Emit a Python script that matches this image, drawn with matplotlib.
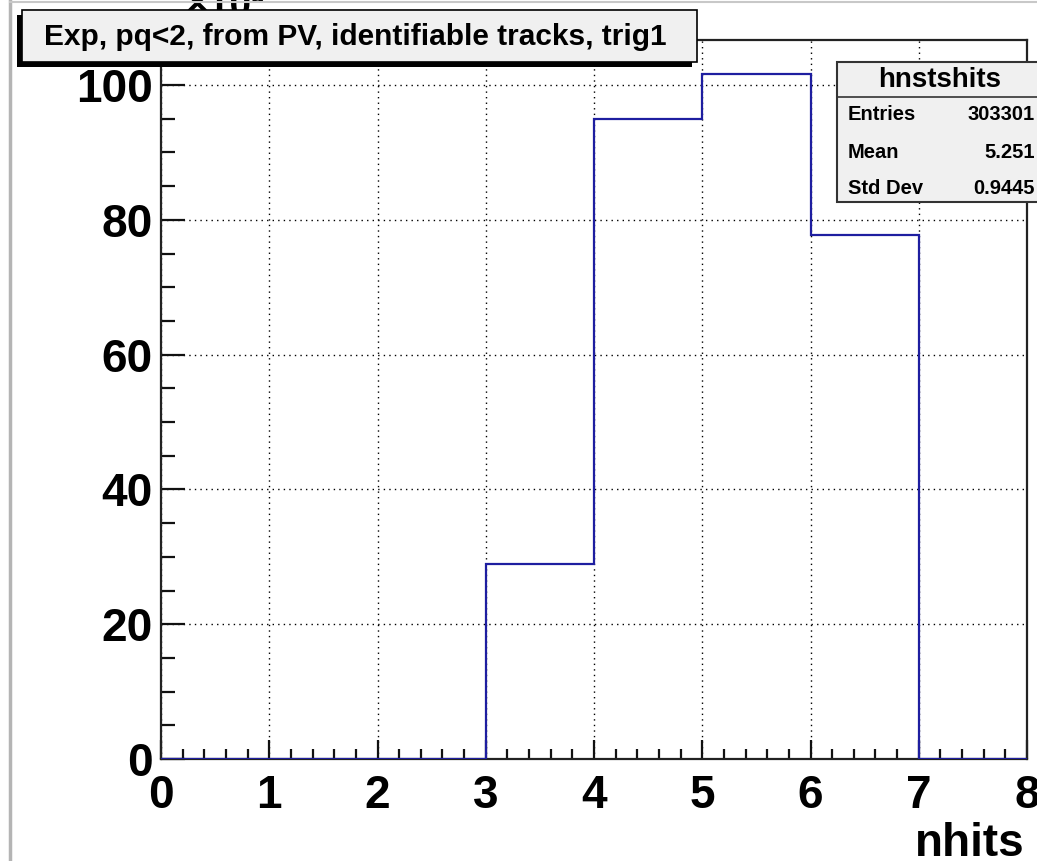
import numpy as np
import matplotlib.pyplot as plt
from matplotlib.patches import Rectangle
from matplotlib.lines import Line2D
from matplotlib.ticker import MultipleLocator

plt.rcParams['font.family'] = ['Liberation Sans', 'DejaVu Sans']
plt.rcParams['font.weight'] = 'bold'

# histogram contents (x10^3 entries per nhits bin)
bin_edges = [0, 1, 2, 3, 4, 5, 6, 7, 8]
counts = [0, 0, 0, 29.0, 95.0, 101.6, 77.7, 0]

title = "Exp, pq<2, from PV, identifiable tracks, trig1"
stats_name = "hnstshits"
stats_labels = ["Entries", "Mean", "Std Dev"]
stats_values = ["303301", "5.251", "0.9445"]

W, H = 1037, 861
fig = plt.figure(figsize=(W / 100, H / 100), dpi=100)


def fx(x):
    return x / W


def fy(y):
    return 1 - y / H


ax = fig.add_axes([fx(161), fy(759), fx(1027) - fx(161), fy(40) - fy(759)])
ax.stairs(counts, bin_edges, color='#1e1ea0', linewidth=1.6, zorder=3)
ax.set_xlim(0, 8)
ax.set_ylim(0, max(counts) * 1.05)

ax.xaxis.set_major_locator(MultipleLocator(1))
ax.xaxis.set_minor_locator(MultipleLocator(0.2))
ax.yaxis.set_major_locator(MultipleLocator(20))
ax.yaxis.set_minor_locator(MultipleLocator(5))
ax.grid(True, which='major', linestyle=(0, (1, 3)), color='black', linewidth=1.0)

ax.tick_params(axis='both', which='both', direction='in', color='#111111', width=1.6,
               labelsize=33, top=False, right=False)
ax.tick_params(axis='y', which='major', length=17, pad=6)
ax.tick_params(axis='y', which='minor', length=10)
ax.tick_params(axis='x', which='major', length=14, pad=11)
ax.tick_params(axis='x', which='minor', length=7)
for lab in ax.get_xticklabels() + ax.get_yticklabels():
    lab.set_fontweight('bold')
for s in ax.spines.values():
    s.set_linewidth(1.6)
    s.set_color('#222222')

fig.text(fx(1025), fy(856), "nhits", ha='right', va='baseline', fontsize=33, fontweight='bold')

# exponent label, mostly hidden behind the title box
fig.text(fx(185), fy(-12), "\u00d710\u00b3", ha='left', va='top', fontsize=28,
         fontweight='bold', zorder=1)

# window edges
fig.add_artist(Line2D([fx(10), fx(10)], [0, 1], color='#b4b4b4', linewidth=2.5))
fig.add_artist(Line2D([fx(10), 1], [fy(2), fy(2)], color='#c8c8c8', linewidth=1.5))

# title box with shadow (bottom-left)
fig.add_artist(Rectangle((fx(17), fy(67)), fx(697) - fx(22), fy(15) - fy(67),
                         facecolor='black', edgecolor='none', zorder=4))
fig.add_artist(Rectangle((fx(22), fy(62)), fx(697) - fx(22), fy(10) - fy(62),
                         facecolor='#f0f0f0', edgecolor='black', linewidth=1.2, zorder=5))
fig.text(fx(44), fy(45), title, ha='left', va='baseline', fontsize=21.5,
         fontweight='bold', zorder=6)

# stats box
fig.add_artist(Rectangle((fx(837), fy(202)), fx(1060) - fx(837), fy(62) - fy(202),
                         facecolor='#f0f0f0', edgecolor='#333333', linewidth=1.5, zorder=5))
fig.add_artist(Line2D([fx(837), 1], [fy(97), fy(97)], color='#333333', linewidth=1.2, zorder=6))
fig.text(fx(940), fy(80), stats_name, ha='center', va='center', fontsize=20,
         fontweight='bold', zorder=6)
row_y = [115, 152, 188]
for lab, val, yy in zip(stats_labels, stats_values, row_y):
    fig.text(fx(848), fy(yy), lab, ha='left', va='center', fontsize=14.5,
             fontweight='bold', zorder=6)
    fig.text(fx(1035), fy(yy), val, ha='right', va='center', fontsize=14.5,
             fontweight='bold', zorder=6)

fig.savefig('out.png', dpi=100)
